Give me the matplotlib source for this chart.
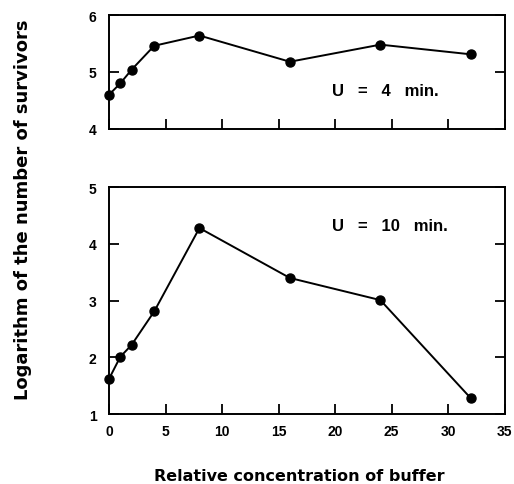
import matplotlib
matplotlib.use("Agg")
import matplotlib.pyplot as plt

# 缓冲液相对浓度
buffer_conc = [0, 1, 2, 4, 8, 16, 24, 32]
# U = 4 min.
log_surv_4min = [4.60, 4.80, 5.04, 5.46, 5.64, 5.18, 5.48, 5.31]
# U = 10 min.
log_surv_10min = [1.62, 2.01, 2.22, 2.81, 4.28, 3.40, 3.01, 1.28]

top_yticks = [4, 5, 6]
bottom_yticks = [1, 2, 3, 4, 5]
xticks = [0, 5, 10, 15, 20, 25, 30, 35]

plt.rcParams['font.family'] = ['Liberation Sans', 'DejaVu Sans']
plt.rcParams['font.weight'] = 'bold'

fig = plt.figure(figsize=(5.14, 4.85), dpi=100)
ax_top = fig.add_axes([0.212, 0.732, 0.770, 0.235])
ax_bot = fig.add_axes([0.212, 0.144, 0.770, 0.468])


def style_axis(ax, yticks, show_xlabels):
    ax.set_xlim(0, 35)
    ax.set_ylim(yticks[0], yticks[-1])
    ax.set_xticks(xticks)
    ax.set_yticks(yticks)
    ax.tick_params(direction='in', length=7, width=1.3, labelsize=10,
                   right=True, top=False)
    ax.tick_params(axis='x', pad=7)
    ax.tick_params(axis='y', pad=9)
    if show_xlabels:
        ax.set_xticklabels([str(t) for t in xticks], fontweight='bold')
    else:
        ax.set_xticklabels([])
    ax.set_yticklabels([str(t) for t in yticks], fontweight='bold')
    for sp in ax.spines.values():
        sp.set_linewidth(1.4)


ax_top.plot(buffer_conc, log_surv_4min, color='black', linewidth=1.4,
            marker='o', markersize=6.5, clip_on=False)
style_axis(ax_top, top_yticks, False)
ax_top.text(19.7, 4.68, 'U   =   4   min.', fontsize=12, fontweight='bold',
            va='center')

ax_bot.plot(buffer_conc, log_surv_10min, color='black', linewidth=1.4,
            marker='o', markersize=6.5, clip_on=False)
style_axis(ax_bot, bottom_yticks, True)
ax_bot.text(19.7, 4.33, 'U   =   10   min.', fontsize=12, fontweight='bold',
            va='center')

fig.text(0.045, 0.567, 'Logarithm of the number of survivors', rotation=90,
         ha='center', va='center', fontsize=13, fontweight='bold',
         family='DejaVu Sans')
fig.text(0.582, 0.008, 'Relative concentration of buffer',
         ha='center', va='baseline', fontsize=11.5, fontweight='bold',
         family='DejaVu Sans')

fig.savefig('out.png', dpi=100)
